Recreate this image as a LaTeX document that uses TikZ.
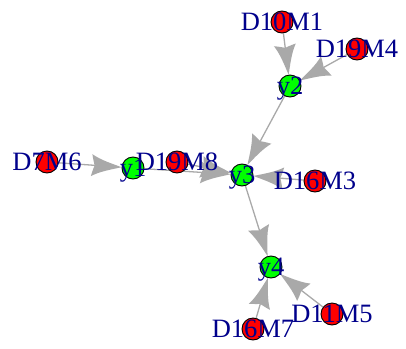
\documentclass[tikz,border=0pt]{standalone}
\usepackage{fontspec}
\setmainfont{Liberation Serif}
\usetikzlibrary{arrows.meta}
\definecolor{vred}{RGB}{255,0,0}
\definecolor{vgreen}{RGB}{0,255,0}
\definecolor{lblue}{RGB}{0,0,139}
\definecolor{egray}{RGB}{169,169,169}
\pgfdeclarelayer{bg}\pgfdeclarelayer{fg}\pgfsetlayers{bg,main,fg}
\pgfdeclarearrow{
  name = IGhead,
  setup code = {
    \pgfarrowssettipend{0pt}
    \pgfarrowssetbackend{-30pt}
    \pgfarrowssetlineend{-24pt}
    \pgfarrowssetvisualbackend{-27pt}
  },
  drawing code = {
    \pgfpathmoveto{\pgfpoint{0pt}{0pt}}
    \pgfpathcurveto{\pgfpoint{-10pt}{3pt}}{\pgfpoint{-21pt}{5.5pt}}{\pgfpoint{-30pt}{11pt}}
    \pgfpathcurveto{\pgfpoint{-29pt}{6pt}}{\pgfpoint{-27.5pt}{1.5pt}}{\pgfpoint{-27pt}{0pt}}
    \pgfpathcurveto{\pgfpoint{-27.5pt}{-1.5pt}}{\pgfpoint{-29pt}{-6pt}}{\pgfpoint{-30pt}{-11pt}}
    \pgfpathcurveto{\pgfpoint{-21pt}{-5.5pt}}{\pgfpoint{-10pt}{-3pt}}{\pgfpoint{0pt}{0pt}}
    \pgfpathclose
    \pgfusepathqfill
  }
}
\begin{document}
\begin{tikzpicture}[x=1pt,y=-1pt,
 vtx/.style={circle,draw=black,line width=0.9pt,minimum size=22pt,inner sep=0pt},
 redv/.style={vtx,fill=vred},
 greenv/.style={vtx,fill=vgreen},
 lbl/.style={text=lblue,font=\fontsize{26.5}{26.5}\selectfont,inner sep=0pt,text height=17pt,text depth=0pt,anchor=center},
 edge/.style={draw=egray,line width=1.3pt,-IGhead}]
\useasboundingbox (0,0) rectangle (406,348);
% vertices
\node[redv] (D10M1) at (282,22) {};
\node[redv] (D19M4) at (357,49) {};
\node[greenv] (y2) at (290,86) {};
\node[redv] (D7M6) at (47,162) {};
\node[greenv] (y1) at (133,168) {};
\node[redv] (D19M8) at (177,162) {};
\node[greenv] (y3) at (242,175) {};
\node[redv] (D16M3) at (315,181) {};
\node[greenv] (y4) at (271,267) {};
\node[redv] (D16M7) at (253,329) {};
\node[redv] (D11M5) at (332,314) {};
% edges
\begin{pgfonlayer}{bg}
\draw[edge] (D10M1) -- (y2);
\draw[edge] (D19M4) -- (y2);
\draw[edge] (y2) -- (y3);
\draw[edge] (D7M6) -- (y1);
\draw[edge] (y1) -- (y3);
\draw[edge] (D19M8) -- (y3);
\draw[edge] (D16M3) -- (y3);
\draw[edge] (y3) -- (y4);
\draw[edge] (D16M7) -- (y4);
\draw[edge] (D11M5) -- (y4);
\end{pgfonlayer}
% labels
\begin{pgfonlayer}{fg}
\node[lbl] (lD10M1) at (D10M1) {D10M1};
\node[lbl] (lD19M4) at (D19M4) {D19M4};
\node[lbl] (ly2) at (y2) {y2};
\node[lbl] (lD7M6) at (D7M6) {D7M6};
\node[lbl] (ly1) at (y1) {y1};
\node[lbl] (lD19M8) at (D19M8) {D19M8};
\node[lbl] (ly3) at (y3) {y3};
\node[lbl] (lD16M3) at (D16M3) {D16M3};
\node[lbl] (ly4) at (y4) {y4};
\node[lbl] (lD16M7) at (D16M7) {D16M7};
\node[lbl] (lD11M5) at (D11M5) {D11M5};
\end{pgfonlayer}
\end{tikzpicture}
\end{document}
